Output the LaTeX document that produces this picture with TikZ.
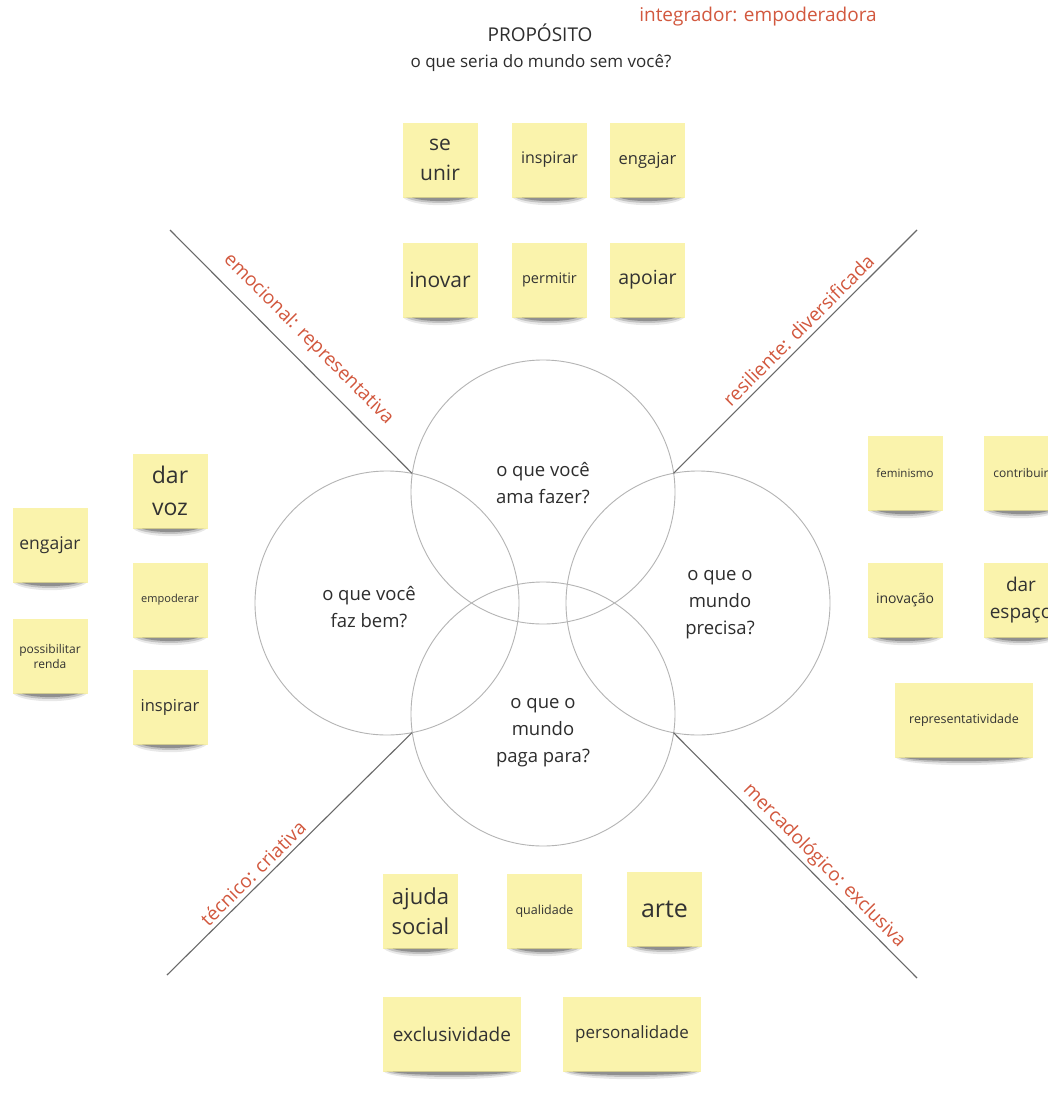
\documentclass[tikz,border=0pt]{standalone}
\usepackage{fontspec}
\setmainfont{Open Sans}
\usetikzlibrary{calc}

\definecolor{notefill}{RGB}{250,243,172}
\definecolor{notetext}{RGB}{50,50,50}
\definecolor{labelred}{RGB}{210,88,62}
\definecolor{ringgray}{RGB}{180,180,180}
\definecolor{axisgray}{RGB}{105,105,105}
\definecolor{inktext}{RGB}{45,45,45}

\tikzset{
  sticky/.style={fill=notefill, text=notetext, align=center, inner sep=0pt,
    minimum width=75pt, minimum height=75pt, text width=73pt},
  widesticky/.style={sticky, minimum width=138pt, text width=136pt},
  ring/.style={draw=ringgray, line width=0.9pt, circle, inner sep=0pt, minimum size=264pt},
  axisline/.style={draw=axisgray, line width=1.1pt},
  axislabel/.style={text=labelred, font=\fontsize{19}{23}\selectfont, sloped, inner sep=2pt},
  ringtext/.style={text=inktext, align=center, font=\fontsize{18.5}{27}\selectfont},
}

% soft curled shadow under the lower edge of a sticky note
\newcommand\noteshade[1]{%
  \fill[black,opacity=0.09] ($(#1.south west)+(1,0)$) .. controls ($(#1.south west)+(12,10)$) and ($(#1.south east)+(-12,10)$) .. ($(#1.south east)+(-1,0)$) -- cycle;
  \fill[black,opacity=0.16] ($(#1.south west)+(4,0)$) .. controls ($(#1.south west)+(16,7)$) and ($(#1.south east)+(-16,7)$) .. ($(#1.south east)+(-4,0)$) -- cycle;
  \fill[black,opacity=0.26] ($(#1.south west)+(10,0)$) .. controls ($(#1.south west)+(22,4.5)$) and ($(#1.south east)+(-22,4.5)$) .. ($(#1.south east)+(-10,0)$) -- cycle;
}

\begin{document}
\begin{tikzpicture}[x=1pt, y=-1pt]
\useasboundingbox (0,0) rectangle (1048,1116);
\fill[white] (0,0) rectangle (1048,1116);
\clip (0,0) rectangle (1048,1116);

% headings
\node[text=inktext, font=\fontsize{19}{23}\selectfont] (proposito) at (540,33) {PROPÓSITO};
\node[text=inktext, font=\fontsize{17}{21}\selectfont] (pergunta) at (541,63) {o que seria do mundo sem você?};
\node[text=labelred, font=\fontsize{19}{23}\selectfont] (integrador) at (758,17) {integrador: empoderadora};

% the four overlapping circles
\node[ring] (cT) at (543,492) {};
\node[ring] (cL) at (387,603) {};
\node[ring] (cR) at (698,603) {};
\node[ring] (cB) at (543,714) {};

\node[ringtext] (tT) at (543,483) {o que você\\ama fazer?};
\node[ringtext] (tL) at (369,607) {o que você\\faz bem?};
\node[ringtext] (tR) at (720,605) {o que o\\mundo\\precisa?};
\node[ringtext] (tB) at (543,733) {o que o\\mundo\\paga para?};

% outer crossing points of neighbouring circles and the free ends of the axes
\coordinate (xTL) at (412,473.3);
\coordinate (xTR) at (673.5,473.3);
\coordinate (xBL) at (412,732.7);
\coordinate (xBR) at (673.5,732.7);
\coordinate (endTL) at (170,230);
\coordinate (endTR) at (917,230);
\coordinate (endBL) at (167,975);
\coordinate (endBR) at (917,978);

\draw[axisline] (endTL) -- (xTL) node[axislabel, pos=0.51, above=9pt] (labTL) {emocional: representativa};
\draw[axisline] (xTR) -- (endTR) node[axislabel, pos=0.55, above=3pt] (labTR) {resiliente: diversificada};
\draw[axisline] (endBL) -- (xBL) node[axislabel, pos=0.385, above=2pt] (labBL) {técnico: criativa};
\draw[axisline] (xBR) -- (endBR) node[axislabel, pos=0.58, above=1pt] (labBR) {mercadológico: exclusiva};

% sticky notes: top group
\node[sticky, font=\fontsize{21}{30}\selectfont] (seunir) at (440,160) {se\\unir};
\node[sticky, font=\fontsize{16}{20}\selectfont] (inspirarT) at (549.5,160) {inspirar};
\node[sticky, font=\fontsize{16.5}{20}\selectfont] (engajarT) at (647.5,160) {engajar};
\node[sticky, font=\fontsize{21}{26}\selectfont] (inovar) at (440,280) {inovar};
\node[sticky, font=\fontsize{14.5}{18}\selectfont] (permitir) at (549.5,280) {permitir};
\node[sticky, font=\fontsize{19.5}{24}\selectfont] (apoiar) at (647.5,280) {apoiar};

% left group
\node[sticky, font=\fontsize{23}{32}\selectfont] (darvoz) at (170,491) {dar\\voz};
\node[sticky, font=\fontsize{17.5}{22}\selectfont] (engajarL) at (50,545) {engajar};
\node[sticky, font=\fontsize{11}{14}\selectfont] (empoderar) at (170,600) {empoderar};
\node[sticky, font=\fontsize{12}{15}\selectfont] (possib) at (50,656) {possibilitar\\renda};
\node[sticky, font=\fontsize{16.5}{20}\selectfont] (inspirarL) at (170,707) {inspirar};

% right group
\node[sticky, font=\fontsize{11.5}{14}\selectfont] (feminismo) at (905,473) {feminismo};
\node[sticky, font=\fontsize{12}{15}\selectfont] (contribuir) at (1021,473) {contribuir};
\node[sticky, font=\fontsize{14}{17}\selectfont] (inovacao) at (905,600) {inovação};
\node[sticky, font=\fontsize{19}{27}\selectfont] (darespaco) at (1021,600) {dar\\espaço};
\node[widesticky, font=\fontsize{12.5}{16}\selectfont] (represent) at (964,720) {representatividade};

% bottom group
\node[sticky, font=\fontsize{22}{30}\selectfont] (ajuda) at (420.5,911) {ajuda\\social};
\node[sticky, font=\fontsize{12.5}{16}\selectfont] (qualidade) at (544.5,911) {qualidade};
\node[sticky, font=\fontsize{25}{30}\selectfont] (arte) at (664.5,909) {arte};
\node[widesticky, font=\fontsize{19}{24}\selectfont] (exclusiv) at (452,1034) {exclusividade};
\node[widesticky, font=\fontsize{17}{22}\selectfont] (personal) at (632,1034) {personalidade};

\foreach \n in {seunir,inspirarT,engajarT,inovar,permitir,apoiar,darvoz,engajarL,empoderar,possib,inspirarL,feminismo,contribuir,inovacao,darespaco,represent,ajuda,qualidade,arte,exclusiv,personal}
  {\noteshade{\n}}
\end{tikzpicture}
\end{document}
